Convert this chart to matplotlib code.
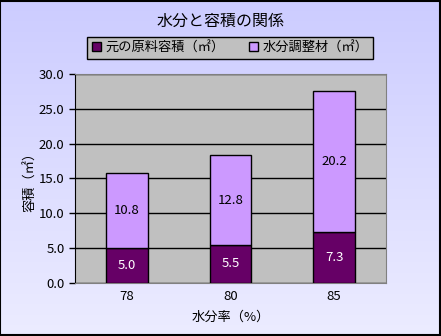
import matplotlib.pyplot as plt
import numpy as np

plt.rcParams["font.family"] = ["Noto Sans CJK JP", "DejaVu Sans"]

moisture = ["78", "80", "85"]
base_volume = [5.0, 5.5, 7.3]
conditioner_volume = [10.8, 12.8, 20.2]

dark = "#660066"
light = "#CC99FF"

fig = plt.figure(figsize=(4.41, 3.36), dpi=100)

# vertical gradient behind everything
bg = fig.add_axes([0, 0, 1, 1], zorder=-10)
grad = np.linspace(0, 1, 256).reshape(-1, 1)
top = np.array([0xCC, 0xCC, 0xFF]) / 255
bottom = np.array([0xEC, 0xEC, 0xFF]) / 255
img = top + (bottom - top) * grad[:, :, None]
bg.imshow(img, aspect="auto", extent=[0, 1, 0, 1])
bg.set_axis_off()
fig.patches.append(plt.Rectangle((0.001, 0.002), 0.997, 0.996, transform=fig.transFigure,
                                 fill=False, edgecolor="black", linewidth=1.5))

ax = fig.add_axes([0.170, 0.158, 0.705, 0.622])
ax.set_facecolor("#C0C0C0")
x = np.arange(len(moisture))
b1 = ax.bar(x, base_volume, width=0.4, color=dark, edgecolor="black", linewidth=1,
            label="元の原料容積（㎡）", zorder=3)
b2 = ax.bar(x, conditioner_volume, width=0.4, bottom=base_volume, color=light,
            edgecolor="black", linewidth=1, label="水分調整材（㎡）", zorder=3)

for i in range(len(moisture)):
    ax.text(x[i], base_volume[i] / 2, f"{base_volume[i]:.1f}", ha="center", va="center",
            color="white", fontsize=9.5, zorder=4)
    ax.text(x[i], base_volume[i] + conditioner_volume[i] / 2, f"{conditioner_volume[i]:.1f}",
            ha="center", va="center", color="black", fontsize=9.5, zorder=4)

ax.set_xlim(-0.5, 2.5)
ax.set_ylim(0, 30)
ax.set_yticks(np.arange(0, 31, 5))
ax.set_yticklabels([f"{v:.1f}" for v in np.arange(0, 31, 5)])
ax.set_xticks(x)
ax.set_xticklabels(moisture)
ax.yaxis.grid(True, color="black", linewidth=1)
ax.set_axisbelow(True)
ax.tick_params(axis="x", length=0, labelsize=9.5, pad=5)
ax.tick_params(axis="y", length=4, width=1, labelsize=9.5, direction="out")
for side in ["top", "right", "bottom"]:
    ax.spines[side].set_color("#808080")
ax.spines["left"].set_color("black")
ax.set_xlabel("水分率（%）", fontsize=9.5, labelpad=6)
ax.set_ylabel("容積（㎡）", fontsize=9.5, labelpad=1)

fig.text(0.5, 0.937, "水分と容積の関係", ha="center", va="center", fontsize=11.5)

leg = fig.legend(handles=[b1, b2], loc="center", bbox_to_anchor=(0.522, 0.858), ncol=2,
                 fontsize=9.5, frameon=True, fancybox=False, edgecolor="black",
                 facecolor="#C0C0C0", framealpha=1, handlelength=0.7, handleheight=0.7,
                 borderpad=0.35, columnspacing=1.8, handletextpad=0.35,
                 borderaxespad=0)
leg.get_frame().set_linewidth(1)

fig.savefig("out.png", dpi=100)
